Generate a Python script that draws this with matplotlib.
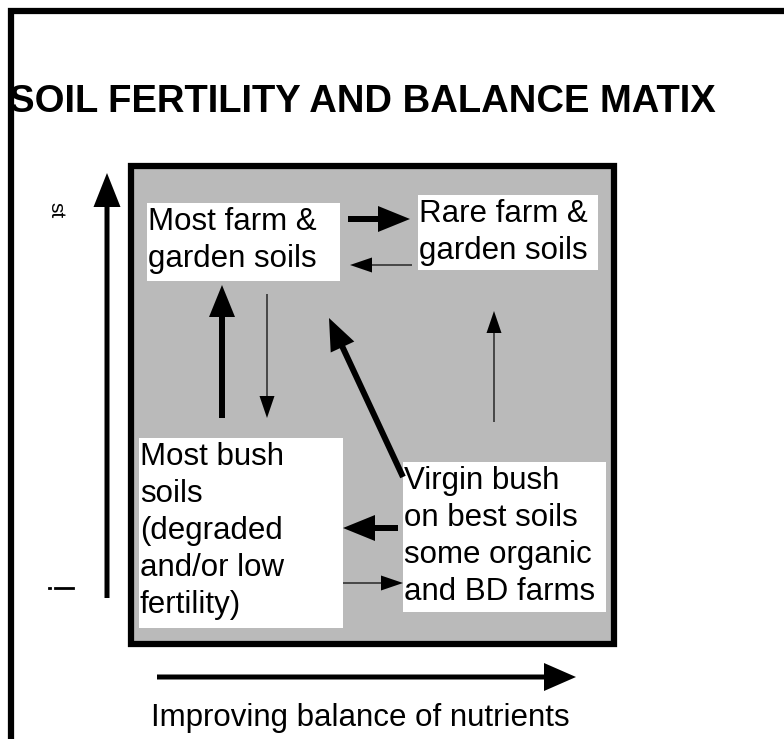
import matplotlib
matplotlib.use("Agg")
import matplotlib.pyplot as plt
from matplotlib.patches import Rectangle, FancyArrow

plt.rcParams["font.family"] = ["Liberation Sans", "DejaVu Sans"]

title = "SOIL FERTILITY AND BALANCE MATIX"
x_label = "Improving balance of nutrients"
y_label = "st"

# boxes: (text, left, top, right, bottom)
box_texts = ["Most farm &\ngarden soils",
             "Rare farm &\ngarden soils",
             "Most bush\nsoils\n(degraded\nand/or low\nfertility)",
             "Virgin bush\non best soils\nsome organic\nand BD farms"]
box_left = [147, 418, 139, 403]
box_top = [203, 195, 438, 462]
box_right = [340, 598, 343, 606]
box_bottom = [281, 270, 628, 612]

# arrows: start -> tip, thick or thin
arrow_x0 = [348, 412, 222, 267, 403, 494, 398, 343]
arrow_y0 = [219, 265, 418, 294, 477, 422, 528, 583]
arrow_x1 = [410, 350, 222, 267, 329, 494, 343, 403]
arrow_y1 = [219, 265, 285, 418, 318, 311, 528, 583]
arrow_thick = [True, False, True, False, True, False, True, False]

fig = plt.figure(figsize=(7.84, 7.39), dpi=100)
ax = fig.add_axes([0, 0, 1, 1])
ax.set_xlim(0, 784)
ax.set_ylim(739, 0)
ax.axis("off")

# outer frame (left + top)
ax.plot([11, 11, 784], [739, 11, 11], color="black", lw=4.5, solid_joinstyle="miter")

ax.text(9, 102, title, fontsize=27.5, fontweight="bold", va="center", ha="left")

# grey matrix
ax.add_patch(Rectangle((131, 166), 483, 478, facecolor="#bababa", edgecolor="black", lw=4.5))

for t, l, tp, r, b in zip(box_texts, box_left, box_top, box_right, box_bottom):
    ax.add_patch(Rectangle((l, tp), r - l, b - tp, facecolor="white", edgecolor="none"))
    ax.text(l + 1, tp + 4, t, fontsize=22.5, va="top", ha="left", linespacing=1.3)

for x0, y0, x1, y1, thick in zip(arrow_x0, arrow_y0, arrow_x1, arrow_y1, arrow_thick):
    if thick:
        w, hw, hl = 6, 26, 32
    else:
        w, hw, hl = 1.2, 15, 22
    ax.add_patch(FancyArrow(x0, y0, x1 - x0, y1 - y0, width=w, head_width=hw,
                            head_length=hl, length_includes_head=True,
                            color="black", lw=0))

# axis arrows
ax.add_patch(FancyArrow(107, 598, 0, 173 - 598, width=5, head_width=27, head_length=34,
                        length_includes_head=True, color="black", lw=0))
ax.add_patch(FancyArrow(157, 677, 576 - 157, 0, width=5, head_width=28, head_length=32,
                        length_includes_head=True, color="black", lw=0))

ax.text(360, 718, x_label, fontsize=22.5, ha="center", va="center")
ax.text(56, 210, y_label, fontsize=15, ha="center", va="center", rotation=-90)
ax.plot([55, 73], [588, 588], color="black", lw=2)
ax.plot([49.5, 50.5], [588, 588], color="black", lw=2)

fig.savefig("out.png", dpi=100)
